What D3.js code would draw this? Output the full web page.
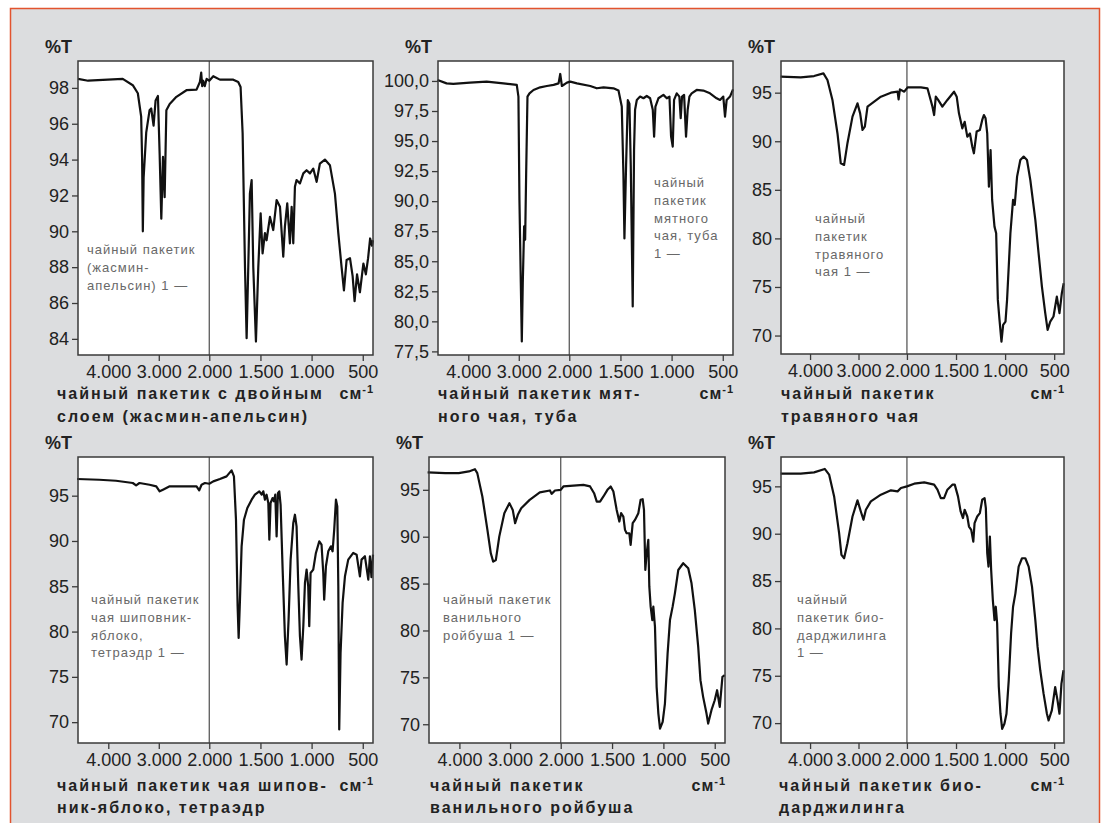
<!DOCTYPE html>
<html>
<head>
<meta charset="utf-8">
<script src="https://cdn.jsdelivr.net/npm/d3@7"></script>
<style>
  body { margin: 0; background: #fff; }
  svg text { font-family: "Liberation Sans", Arial, sans-serif; }
</style>
</head>
<body>
<div id="chart"></div>
<script>
var svgWidth = 1104;
var svgHeight = 823;

// spectra: [wavenumber cm-1, %T]
var jasminOrange = [[4600,98.5],[4400,98.4],[3714,98.5],[3515,98.15],[3415,97.7],[3349,96.4],[3330,94],[3316,90.0],[3300,93],[3249,95.5],[3183,96.75],[3150,96.85],[3103,95.9],[3063,97.3],[3017,97.55],[2983,94.3],[2950,90.7],[2917,94.15],[2884,91.9],[2850,96.75],[2784,97.1],[2651,97.5],[2452,97.87],[2252,97.9],[2186,98.33],[2160,98.85],[2140,98.1],[2120,98.4],[2090,98.1],[2053,98.5],[2000,98.4],[1961,98.65],[1896,98.46],[1765,98.46],[1717,98.33],[1694,98.05],[1674,95.46],[1651,88.0],[1635,84.04],[1619,88],[1603,92.1],[1586,92.86],[1570,88],[1544,83.85],[1521,88],[1498,91.0],[1479,88.77],[1456,89.9],[1440,89.5],[1407,90.8],[1375,90.07],[1342,91.74],[1309,91.37],[1277,88.59],[1261,90.26],[1238,91.56],[1212,89.33],[1195,91.37],[1179,89.33],[1163,92.49],[1147,92.86],[1114,92.67],[1081,93.23],[1049,93.41],[1016,93.23],[984,93.5],[951,92.76],[919,93.78],[870,94.0],[821,93.69],[772,92.1],[739,89.9],[707,88.0],[684,86.7],[658,88.4],[625,88.5],[599,87.5],[580,86.1],[556,87.6],[528,86.6],[494,88.2],[470,87.6],[448,88.5],[428,89.6],[410,89.2],[400,89.5]];

var mintTube = [[4609,100.08],[4430,99.8],[4298,99.75],[3967,99.86],[3636,99.94],[3305,99.8],[3040,99.67],[3007,98.7],[2987,90.1],[2960,83.2],[2940,78.33],[2921,83.2],[2894,87.9],[2874,86.8],[2854,92.3],[2828,98.7],[2788,98.97],[2709,99.25],[2576,99.47],[2444,99.58],[2311,99.67],[2212,99.8],[2179,100.58],[2146,99.58],[2046,99.86],[1990,99.94],[1925,99.8],[1795,99.58],[1731,99.39],[1665,99.47],[1568,99.39],[1519,99.2],[1487,97.87],[1471,92.3],[1461,86.9],[1445,92.9],[1428,98.4],[1412,98.1],[1399,92.9],[1389,86.8],[1380,81.24],[1367,94.26],[1357,97.6],[1340,98.42],[1308,98.7],[1275,98.56],[1243,98.75],[1210,98.56],[1184,97.6],[1171,95.37],[1158,97.87],[1129,98.56],[1080,98.84],[1047,98.56],[1021,98.7],[1005,95.37],[989,94.54],[976,98.42],[950,98.97],[924,98.7],[911,96.9],[898,98.7],[878,98.84],[859,95.37],[843,97.6],[826,98.7],[804,98.97],[755,99.25],[690,99.2],[625,98.97],[560,98.56],[527,98.42],[495,98.7],[478,97.03],[462,98.42],[429,98.7],[400,99.3]];

var herbal = [[4607,96.65],[4193,96.58],[3917,96.71],[3724,96.99],[3641,96.3],[3538,94.25],[3434,90.8],[3366,87.73],[3297,87.56],[3228,89.8],[3124,92.53],[3021,93.9],[2966,92.87],[2917,91.16],[2869,91.5],[2814,93.56],[2676,94.07],[2538,94.59],[2331,95],[2193,95.1],[2172,94.3],[2145,95.34],[2055,95.1],[1993,95.55],[1858,95.55],[1791,95.45],[1740,93.56],[1723,92.7],[1706,94.6],[1682,94.25],[1639,93.56],[1588,94.25],[1520,95.1],[1493,94.59],[1470,92.87],[1436,91.33],[1412,92.0],[1385,90.47],[1358,90.8],[1334,89.44],[1318,88.76],[1290,91],[1257,91.16],[1233,92.19],[1216,92.7],[1199,92.36],[1182,90.8],[1165,85.33],[1148,89.1],[1132,83.96],[1108,81.21],[1091,80.53],[1074,73.67],[1057,71.61],[1037,69.38],[1020,71.1],[996,71.44],[980,73.67],[946,80.53],[919,83.96],[902,83.44],[878,86.36],[845,88.07],[811,88.42],[777,88.07],[743,86.0],[709,83.27],[692,81.9],[659,78.47],[625,75.04],[591,72.3],[567,70.58],[540,71.44],[507,71.96],[473,74.0],[446,72.3],[422,74.36],[403,75.38]];

var rosehipApple = [[4618,96.84],[4180,96.76],[3847,96.65],[3515,96.4],[3449,96.14],[3382,96.4],[3183,96.21],[3050,96.03],[2983,95.48],[2917,95.66],[2784,96.03],[2518,96.03],[2252,96.03],[2199,95.59],[2153,96.21],[2086,96.4],[2000,96.32],[1961,96.58],[1896,96.84],[1831,97.13],[1782,97.79],[1759,97.13],[1739,92.35],[1723,82.79],[1713,79.3],[1700,83.53],[1684,89.41],[1661,92.35],[1628,93.64],[1586,94.56],[1554,95.11],[1511,95.48],[1488,95.11],[1472,95.48],[1456,94.56],[1440,95.11],[1423,94.19],[1413,90.15],[1401,94.19],[1381,94.74],[1368,94.38],[1355,95.11],[1342,90.51],[1329,95.29],[1316,95.48],[1303,94.0],[1283,86.84],[1261,79.49],[1244,76.36],[1225,81.32],[1205,87.94],[1179,91.99],[1163,92.9],[1147,91.62],[1130,85.0],[1114,79.49],[1098,76.91],[1081,80.59],[1065,85.37],[1049,86.84],[1033,85.0],[1023,80.59],[1010,86.47],[984,86.84],[958,88.68],[925,89.96],[903,89.6],[886,86.47],[877,83.53],[860,87.21],[837,88.86],[811,89.41],[795,88.86],[779,91.25],[762,94.56],[749,93.82],[739,85.0],[730,69.19],[717,77.65],[697,83.16],[674,86.1],[642,87.94],[593,88.68],[560,88.49],[528,86.1],[512,87.94],[479,88.31],[446,85.74],[430,88.3],[415,86.0],[400,88.5]];

var vanillaRooibos = [[4627,96.85],[4280,96.78],[4013,96.78],[3813,96.96],[3693,97.2],[3647,96.78],[3547,94.29],[3447,90.73],[3380,88.23],[3333,87.34],[3280,87.52],[3213,90.01],[3113,92.51],[3013,93.58],[2947,92.86],[2900,91.44],[2847,92.33],[2780,93.04],[2613,93.93],[2413,94.72],[2213,94.93],[2180,94.57],[2113,94.93],[2000,95],[1974,95.36],[1909,95.43],[1779,95.53],[1714,95.36],[1675,94.64],[1649,93.75],[1617,93.75],[1584,94.29],[1545,95],[1513,95.36],[1487,94.82],[1455,92.86],[1429,91.62],[1412,92.51],[1390,92.15],[1374,90.73],[1358,90.37],[1332,90.37],[1319,89.12],[1299,91.44],[1277,91.79],[1244,92.51],[1222,93.93],[1202,94.0],[1189,92.86],[1176,86.45],[1163,88.23],[1147,89.66],[1137,84.67],[1124,82.54],[1108,81.11],[1098,82.54],[1082,80.4],[1066,73.99],[1049,71.14],[1033,69.54],[1007,70.25],[985,72.21],[959,77.55],[936,81.11],[910,82.54],[888,83.96],[855,86.45],[807,87.17],[758,86.63],[726,85.03],[694,82.18],[661,78.26],[639,74.7],[613,72.92],[580,71.14],[564,70.07],[532,71.5],[500,72.56],[477,73.63],[451,71.85],[425,75.06],[403,75.23]];

var bioDarjeeling = [[4607,96.34],[4193,96.34],[3917,96.48],[3697,96.84],[3607,96.24],[3503,93.94],[3400,90.06],[3352,87.76],[3297,87.41],[3228,89.0],[3124,91.82],[3021,93.52],[2952,92.35],[2897,91.47],[2848,92.53],[2745,93.41],[2538,94.12],[2331,94.58],[2193,94.47],[2124,94.82],[2000,95],[1926,95.28],[1824,95.42],[1723,95.18],[1689,94.65],[1655,93.76],[1622,93.76],[1588,94.65],[1537,95.18],[1513,95.18],[1480,93.94],[1453,92.35],[1429,91.65],[1412,92.53],[1385,91.82],[1368,90.76],[1345,90.41],[1324,89.17],[1311,91.12],[1284,91.82],[1257,92.18],[1233,93.59],[1209,93.76],[1196,92.7],[1182,87.94],[1169,86.53],[1155,89.7],[1142,86.17],[1125,83.0],[1108,80.88],[1095,82.29],[1081,80.52],[1064,73.81],[1047,70.99],[1030,69.4],[1007,69.93],[986,70.99],[963,74.52],[939,79.46],[919,82.29],[895,83.7],[862,86.53],[828,87.41],[794,87.41],[760,86.53],[726,84.41],[692,80.88],[669,78.05],[642,75.58],[608,73.11],[574,70.99],[557,70.28],[524,71.34],[490,73.81],[466,72.4],[446,70.99],[426,74.17],[405,75.58]];

// ticks
var xTickValues = [4000, 3000, 2000, 1500, 1000, 500];
var yTicksJasmin = [84, 86, 88, 90, 92, 94, 96, 98];
var yTicksMint = [77.5, 80, 82.5, 85, 87.5, 90, 92.5, 95, 97.5, 100];
var yTicksFive = [70, 75, 80, 85, 90, 95];

// texts
var titles = [
  ["чайный пакетик с двойным", "слоем (жасмин-апельсин)"],
  ["чайный пакетик мят-", "ного чая, туба"],
  ["чайный пакетик", "травяного чая"],
  ["чайный пакетик чая шипов-", "ник-яблоко, тетраэдр"],
  ["чайный пакетик", "ванильного ройбуша"],
  ["чайный пакетик био-", "дарджилинга"]
];
var notes = [
  ["чайный пакетик", "(жасмин-", "апельсин) 1 —"],
  ["чайный", "пакетик", "мятного", "чая, туба", "1 —"],
  ["чайный", "пакетик", "травяного", "чая 1 —"],
  ["чайный пакетик", "чая шиповник-", "яблоко,", "тетраэдр 1 —"],
  ["чайный пакетик", "ванильного", "ройбуша 1 —"],
  ["чайный", "пакетик био-", "дарджилинга", "1 —"]
];

var locale = d3.formatLocale({decimal: ",", thousands: ".", grouping: [3], currency: ["", ""]});
var xFormat = locale.format(",");
var intFormat = locale.format("d");
var oneDec = locale.format(",.1f");

// layout of the six plots
var panels = [
  {x: 78,  y: 61,  w: 295, h: 294, yDom: [83.1, 99.5],  ticks: yTicksJasmin, fmt: intFormat, data: jasminOrange,  titleX: 57,  titleY: 399, lineGap: 23, noteX: 9,   noteY: 193},
  {x: 438, y: 61,  w: 295, h: 294, yDom: [77.2, 101.66], ticks: yTicksMint, fmt: oneDec,   data: mintTube,      titleX: 438, titleY: 399, lineGap: 23, noteX: 216, noteY: 126},
  {x: 781, y: 61,  w: 283, h: 293, yDom: [68.1, 98.26], ticks: yTicksFive,   fmt: intFormat, data: herbal,        titleX: 781, titleY: 399, lineGap: 23, noteX: 34,  noteY: 162},
  {x: 78,  y: 457, w: 295, h: 286, yDom: [67.7, 99.27], ticks: yTicksFive,   fmt: intFormat, data: rosehipApple,  titleX: 57,  titleY: 791, lineGap: 22, noteX: 13,  noteY: 147},
  {x: 429, y: 457, w: 296, h: 286, yDom: [68.0, 98.5],  ticks: yTicksFive,   fmt: intFormat, data: vanillaRooibos, titleX: 430, titleY: 791, lineGap: 22, noteX: 14, noteY: 147},
  {x: 781, y: 457, w: 283, h: 286, yDom: [67.9, 98.1],  ticks: yTicksFive,   fmt: intFormat, data: bioDarjeeling, titleX: 779, titleY: 791, lineGap: 22, noteX: 16,  noteY: 147}
];

var svg = d3.select("#chart")
  .append("svg")
  .attr("width", svgWidth)
  .attr("height", svgHeight);

// grey card with orange frame, open at the bottom
svg.append("rect")
  .attr("x", 10).attr("y", 8)
  .attr("width", 1090).attr("height", svgHeight - 8)
  .attr("fill", "#dcdddf");

svg.append("path")
  .attr("d", "M10.5," + svgHeight + "V8.5H1099.5V" + svgHeight)
  .attr("fill", "none")
  .attr("stroke", "#e2532e")
  .attr("stroke-width", 1.5);

panels.forEach(function(p, i) {
  var g = svg.append("g")
    .attr("transform", `translate(${p.x}, ${p.y})`);

  // split wavenumber axis: 4600-2000 compressed, 2000-400 expanded
  var xScale = d3.scaleLinear()
    .domain([4600, 2000, 400])
    .range([0, p.w * 0.445, p.w]);

  var yScale = d3.scaleLinear()
    .domain(p.yDom)
    .range([p.h, 0]);

  g.append("rect")
    .attr("width", p.w)
    .attr("height", p.h)
    .attr("fill", "#fff");

  // divider at 2000
  g.append("line")
    .attr("x1", xScale(2000)).attr("x2", xScale(2000))
    .attr("y1", 0).attr("y2", p.h)
    .attr("stroke", "#5a5a5a")
    .attr("stroke-width", 1.3);

  var line = d3.line()
    .x(d => xScale(d[0]))
    .y(d => yScale(d[1]));

  g.append("path")
    .datum(p.data)
    .attr("d", line)
    .attr("fill", "none")
    .attr("stroke", "#111")
    .attr("stroke-width", 2.2)
    .attr("stroke-linejoin", "round");

  g.append("rect")
    .attr("width", p.w)
    .attr("height", p.h)
    .attr("fill", "none")
    .attr("stroke", "#3a3a3a")
    .attr("stroke-width", 1.5);

  var leftAxis = d3.axisLeft(yScale)
    .tickValues(p.ticks)
    .tickFormat(p.fmt)
    .tickSize(6)
    .tickPadding(3);

  var bottomAxis = d3.axisBottom(xScale)
    .tickValues(xTickValues)
    .tickFormat(xFormat)
    .tickSize(6)
    .tickPadding(4);

  var ya = g.append("g").call(leftAxis);
  var xa = g.append("g")
    .attr("transform", `translate(0, ${p.h})`)
    .call(bottomAxis);

  [ya, xa].forEach(function(a) {
    a.select(".domain").remove();
    a.selectAll("line").attr("stroke", "#3a3a3a").attr("stroke-width", 1.3);
    a.selectAll("text")
      .attr("font-size", "18px")
      .attr("fill", "#222")
      .style("font-family", "'Liberation Sans', Arial, sans-serif");
  });

  // %T label
  g.append("text")
    .attr("x", -6)
    .attr("y", -8)
    .attr("text-anchor", "end")
    .attr("font-size", "18px")
    .attr("font-weight", "bold")
    .attr("fill", "#222")
    .text("%T");

  // note inside plot
  g.append("text")
    .attr("x", p.noteX)
    .attr("y", p.noteY)
    .attr("font-size", "13px")
    .attr("letter-spacing", "1px")
    .attr("fill", "#686868")
    .selectAll("tspan")
    .data(notes[i])
    .enter()
    .append("tspan")
    .attr("x", p.noteX)
    .attr("dy", (d, k) => k === 0 ? 0 : 17.8)
    .text(d => d);

  // title under the axis
  var t = svg.append("text")
    .attr("x", p.titleX)
    .attr("y", p.titleY)
    .attr("font-size", "16px")
    .attr("font-weight", "bold")
    .attr("letter-spacing", "2px")
    .attr("fill", "#222");
  t.selectAll("tspan")
    .data(titles[i])
    .enter()
    .append("tspan")
    .attr("x", p.titleX)
    .attr("dy", (d, k) => k === 0 ? 0 : p.lineGap)
    .text(d => d);

  // unit
  var u = svg.append("text")
    .attr("x", p.x + p.w + 1)
    .attr("y", p.titleY)
    .attr("text-anchor", "end")
    .attr("font-size", "16px")
    .attr("font-weight", "bold")
    .attr("letter-spacing", "1px")
    .attr("fill", "#222");
  u.append("tspan").text("см");
  u.append("tspan")
    .attr("font-size", "11px")
    .attr("dy", -6)
    .text("-1");
});
</script>
</body>
</html>
